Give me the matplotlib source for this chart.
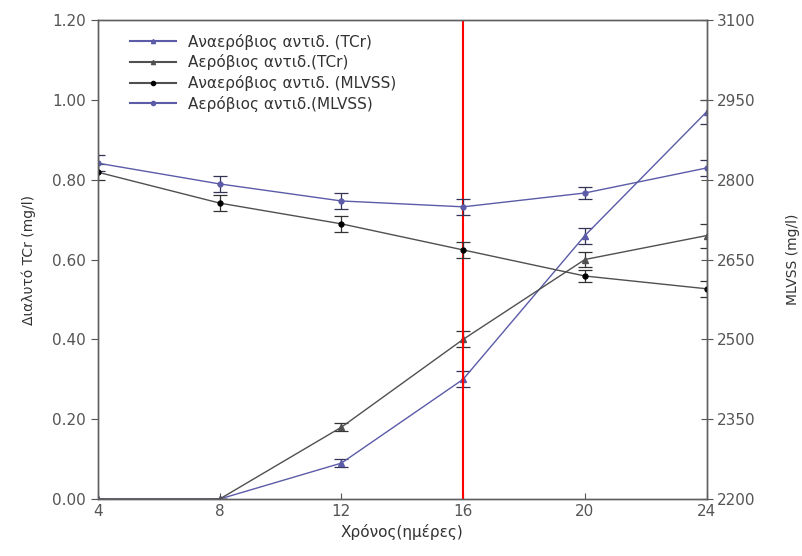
import matplotlib.pyplot as plt
from matplotlib.lines import Line2D

days = [4, 8, 12, 16, 20, 24]

# dissolved TCr (mg/l), left axis
tcr_anaer = [0.0, 0.0, 0.09, 0.30, 0.66, 0.97]
tcr_aer = [0.0, 0.0, 0.18, 0.40, 0.60, 0.66]
tcr_err = [0.0, 0.0, 0.01, 0.02, 0.02, 0.03]

# MLVSS (mg/l), right axis
mlvss_anaer = [2814, 2756, 2717, 2668, 2619, 2595]
mlvss_aer = [2831, 2792, 2760, 2749, 2775, 2822]
mlvss_err = [15, 15, 15, 15, 12, 15]

labels = ['Αναερόβιος αντιδ. (TCr)', 'Αερόβιος αντιδ.(TCr)',
          'Αναερόβιος αντιδ. (MLVSS)', 'Αερόβιος αντιδ.(MLVSS)']

blue = '#5b5ba8'
grey = '#505050'

plt.rcParams['font.family'] = ['DejaVu Sans']
fig = plt.figure(figsize=(8.03, 5.56), dpi=100)
ax = fig.add_axes([0.122, 0.1025, 0.758, 0.8615])
ax2 = ax.twinx()

eb = dict(elinewidth=0.9, capsize=5, capthick=0.9, linewidth=1.0)
ax.errorbar(days, tcr_anaer, yerr=tcr_err, color=blue, marker='^', ms=4, ecolor='#333355', **eb)
ax.errorbar(days, tcr_aer, yerr=tcr_err, color=grey, marker='^', ms=4, ecolor='#333333', **eb)
ax2.errorbar(days, mlvss_anaer, yerr=mlvss_err, color=grey, marker='o', ms=3.5, mfc='black', mec='black', ecolor='#333333', **eb)
ax2.errorbar(days, mlvss_aer, yerr=mlvss_err, color=blue, marker='o', ms=3.5, ecolor='#333355', **eb)

ax.axvline(16, color='red', lw=1.5, zorder=5)

ax.set_xlim(4, 24)
ax.set_ylim(0, 1.2)
ax2.set_ylim(2200, 3100)
ax.set_xticks(days)
ax.set_yticks([0, 0.2, 0.4, 0.6, 0.8, 1.0, 1.2])
ax.set_yticklabels(['%.2f' % v for v in ax.get_yticks()])
ax2.set_yticks([2200, 2350, 2500, 2650, 2800, 2950, 3100])

tc = '#555555'
for a in (ax, ax2):
    for s in a.spines.values():
        s.set_color('#606060')
        s.set_linewidth(1.0)
ax.tick_params(axis='x', direction='in', colors=tc, labelsize=11, length=4)
ax.tick_params(axis='y', direction='out', colors=tc, labelsize=11, length=5)
ax2.tick_params(axis='y', direction='inout', colors=tc, labelsize=11, length=8)

ax.set_xlabel('Χρόνος(ημέρες)', color='#333333', fontsize=11)
ax.set_ylabel('Διαλυτό TCr (mg/l)', color='#333333', fontsize=10, labelpad=12)
ax2.set_ylabel('MLVSS (mg/l)', color='#333333', fontsize=10, labelpad=22)

handles = [Line2D([], [], color=blue, marker='^', ms=3),
           Line2D([], [], color=grey, marker='^', ms=3),
           Line2D([], [], color=grey, marker='o', ms=3, mfc='black', mec='black'),
           Line2D([], [], color=blue, marker='o', ms=3)]
ax.legend(handles, labels, loc='upper left', bbox_to_anchor=(0.03, 1.0), frameon=False,
          fontsize=11, handlelength=3.0, labelspacing=0.3, labelcolor='#333333')

fig.savefig('out.png', dpi=100)
